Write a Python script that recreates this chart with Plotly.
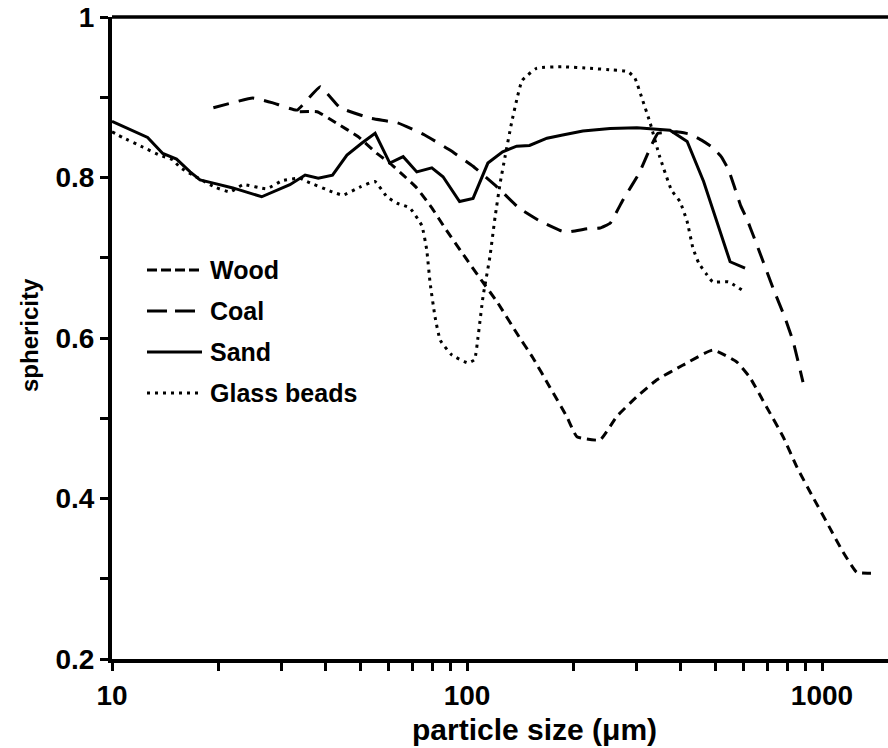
import plotly.graph_objects as go

# ---- data ----
wood_x = [33.8, 37.8, 42.8, 49.3, 55.7, 60.6, 66.1, 72.2, 80.2, 86.4, 98.7, 109.8, 122, 139, 153, 171, 191, 204,
          237, 264, 301, 343, 405, 493, 576, 626, 698, 777, 850, 942, 1050, 1137, 1253, 1390]
wood_y = [0.882, 0.882, 0.868, 0.851, 0.830, 0.818, 0.803, 0.787, 0.760, 0.738, 0.701, 0.672, 0.644, 0.604, 0.576,
          0.539, 0.502, 0.477, 0.473, 0.502, 0.527, 0.548, 0.566, 0.585, 0.570, 0.551, 0.514, 0.477, 0.439, 0.402,
          0.364, 0.336, 0.308, 0.307]

coal_x = [19.3, 24.9, 28.4, 33.2, 38.6, 43.9, 53.3, 63.8, 76, 89.7, 104, 121, 140, 160, 183, 191, 218, 237, 253,
          275, 306, 329, 345, 390, 425, 460, 490, 520, 545, 565, 590, 616, 640, 683, 728, 787, 830, 884]
coal_y = [0.887, 0.899, 0.893, 0.884, 0.913, 0.887, 0.874, 0.868, 0.853, 0.834, 0.814, 0.789, 0.762, 0.746, 0.734,
          0.732, 0.736, 0.737, 0.743, 0.772, 0.806, 0.838, 0.855, 0.857, 0.854, 0.846, 0.838, 0.826, 0.810, 0.790,
          0.765, 0.747, 0.728, 0.695, 0.662, 0.625, 0.595, 0.545]

sand_x = [10, 12.6, 13.9, 15.2, 16.6, 17.7, 19.3, 21.9, 26.4, 31.7, 35.0, 38.1, 41.8, 45.9, 50.6, 55.1, 60.6, 66.1,
          72.2, 79.6, 85.6, 95.3, 104, 114.5, 126, 138, 150, 168, 186, 212, 253, 301, 373, 417, 464, 506, 551, 607]
sand_y = [0.870, 0.850, 0.830, 0.823, 0.807, 0.797, 0.793, 0.787, 0.776, 0.791, 0.803, 0.799, 0.803, 0.828, 0.843,
          0.855, 0.818, 0.826, 0.807, 0.812, 0.801, 0.770, 0.774, 0.818, 0.832, 0.839, 0.840, 0.849, 0.853, 0.858,
          0.861, 0.862, 0.859, 0.845, 0.795, 0.745, 0.695, 0.687]

glass_x = [10, 10.7, 12.2, 13.6, 14.85, 15.5, 16.9, 19.5, 21.5, 23.4, 27.3, 30.1, 33.8, 35.4, 41.8, 44.7, 49.9, 55,
           59.5, 63.5, 69, 74.6, 77, 78.7, 81.3, 84.1, 90.6, 100.6, 105, 107.4, 110.9, 116, 120, 124, 128, 133.5,
           138.6, 143, 157, 186, 222, 258, 284, 297, 312, 328, 349, 377, 398, 417, 433, 450, 472, 492, 545, 594]
glass_y = [0.857, 0.850, 0.838, 0.828, 0.822, 0.813, 0.803, 0.788, 0.782, 0.791, 0.786, 0.796, 0.799, 0.795, 0.782,
           0.778, 0.788, 0.795, 0.776, 0.768, 0.762, 0.740, 0.710, 0.669, 0.626, 0.597, 0.579, 0.569, 0.573, 0.601,
           0.651, 0.701, 0.751, 0.793, 0.826, 0.868, 0.900, 0.921, 0.936, 0.938, 0.936, 0.934, 0.932, 0.924, 0.897,
           0.868, 0.826, 0.784, 0.770, 0.745, 0.712, 0.693, 0.680, 0.670, 0.670, 0.660]

series_names = ["Wood", "Coal", "Sand", "Glass beads"]

x_tick_vals = [10, 20, 30, 40, 50, 60, 70, 80, 90, 100, 200, 300, 400, 500, 600, 700, 800, 900, 1000]
x_tick_text = ["10", "", "", "", "", "", "", "", "", "100", "", "", "", "", "", "", "", "", "1000"]
y_tick_vals = [0.2, 0.3, 0.4, 0.5, 0.6, 0.7, 0.8, 0.9, 1.0]
y_tick_text = ["0.2", "", "0.4", "", "0.6", "", "0.8", "", "1"]

FONT = "Liberation Sans, Arial, sans-serif"
BOLD = dict(family=FONT, color="black", weight="bold")

# plot-area geometry
L, R, T, B = 112, 0, 17, 89
PW = 888 - L - R
PH = 748 - T - B

styles = {
    "Wood": dict(dash="9px,6px", shape="spline", smoothing=0.4),
    "Coal": dict(dash="16px,10px", shape="spline", smoothing=0.3),
    "Sand": dict(dash="solid", shape="linear"),
    "Glass beads": dict(dash="3px,5px", shape="spline", smoothing=0.4),
}
legend_dash = {"Wood": "10px,4px", "Coal": "20px,8px", "Sand": "solid", "Glass beads": "3px,5px"}

fig = go.Figure()
for name, xs, ys in zip(series_names, [wood_x, coal_x, sand_x, glass_x], [wood_y, coal_y, sand_y, glass_y]):
    st = styles[name]
    line = dict(color="black", width=3, dash=st["dash"], shape=st["shape"])
    if "smoothing" in st:
        line["smoothing"] = st["smoothing"]
    fig.add_trace(go.Scatter(x=xs, y=ys, mode="lines", name=name, line=line, showlegend=False))

# manual legend (long line samples like the reference)
shapes = [dict(type="line", xref="paper", yref="paper", x0=0, x1=1, y0=1, y1=1,
               line=dict(color="black", width=3.5), layer="above")]
annotations = []
leg_x0 = (147 - L) / PW
leg_x1 = (202 - L) / PW
leg_tx = (208 - L) / PW
leg_rows = [270, 311, 352, 393]
for name, py in zip(series_names, leg_rows):
    yy = (748 - B - py) / PH
    shapes.append(dict(type="line", xref="paper", yref="paper", x0=leg_x0, x1=leg_x1, y0=yy, y1=yy,
                       line=dict(color="black", width=3, dash=legend_dash[name])))
    annotations.append(dict(text=name, xref="paper", yref="paper", x=leg_tx, y=yy, xanchor="left",
                            yanchor="middle", showarrow=False, font=dict(BOLD, size=25)))

# axis titles
annotations.append(dict(text="particle size (μm)", xref="paper", yref="paper", x=(534 - L) / PW, y=0,
                        xanchor="center", yanchor="middle", yshift=-70, showarrow=False,
                        font=dict(BOLD, size=30)))
annotations.append(dict(text="sphericity", xref="paper", yref="paper", x=(29 - L) / PW, y=(748 - B - 335) / PH,
                        xanchor="center", yanchor="middle", textangle=-90, showarrow=False,
                        font=dict(BOLD, size=24)))

fig.update_layout(
    width=888, height=748,
    margin=dict(l=L, r=R, t=T, b=B),
    paper_bgcolor="white", plot_bgcolor="white",
    font=BOLD,
    showlegend=False,
    xaxis=dict(
        type="log", range=[1, 1 + PW / 355],
        tickmode="array", tickvals=x_tick_vals, ticktext=x_tick_text,
        ticks="outside", ticklen=8, tickwidth=3, tickcolor="black",
        showline=True, linewidth=4, linecolor="black",
        showgrid=False, zeroline=False,
        tickfont=dict(BOLD, size=28),
    ),
    yaxis=dict(
        range=[0.2, 1.0],
        tickmode="array", tickvals=y_tick_vals, ticktext=y_tick_text,
        ticks="outside", ticklen=8, tickwidth=3, tickcolor="black",
        showline=True, linewidth=4, linecolor="black",
        showgrid=False, zeroline=False,
        tickfont=dict(BOLD, size=28),
    ),
    shapes=shapes,
    annotations=annotations,
)

fig.write_html("out.html")
